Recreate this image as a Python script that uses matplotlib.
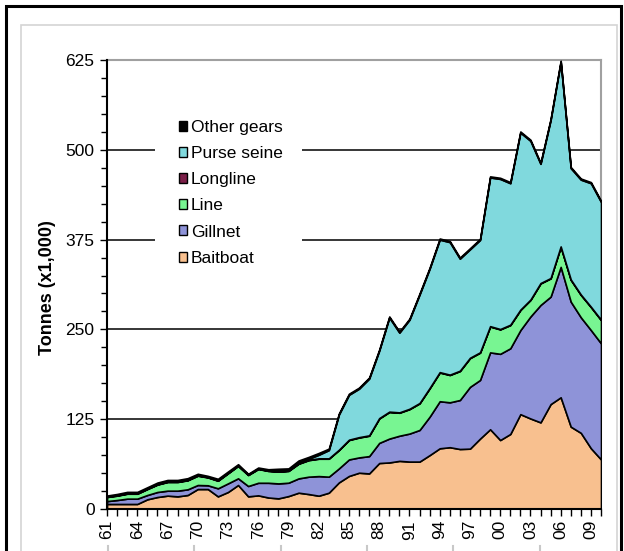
import matplotlib
matplotlib.use("Agg")
import matplotlib.pyplot as plt
from matplotlib.patches import Rectangle, Patch
from matplotlib.lines import Line2D
from matplotlib.ticker import MultipleLocator
import numpy as np

plt.rcParams['font.family'] = ['Liberation Sans', 'DejaVu Sans']

years = list(range(1961, 2011))

baitboat_top = [7, 7, 7, 7, 13.5, 16.7, 18.6, 17.6, 19.5, 27.8,
                27.8, 17.6, 23.7, 33.4, 17.6, 19, 16, 14.8, 18, 22.7,
                20.8, 18.5, 22.7, 37, 46, 50.5, 49.5, 64, 64.8, 67,
                66, 66, 75, 84.5, 86, 83.5, 84, 98, 111, 96,
                104.4, 132, 126, 120.6, 146, 155.5, 114.6, 106, 84.5, 69]
gillnet_top = [11, 12.5, 14.4, 14.4, 19.5, 23.7, 25.5, 25.5, 27.4, 33.4,
               33, 28.8, 35.7, 42.7, 32, 36.5, 36.5, 35.6, 36.6, 42.6,
               45, 45.8, 45, 56.5, 69, 71.8, 73.6, 92, 98, 102,
               105, 110, 128.5, 150, 148.5, 151.7, 170, 179.6, 218, 216,
               223.7, 249, 268, 284, 295.6, 337, 288.6, 266.8, 249, 230.6]
line_top = [16.7, 18.6, 21.3, 21.3, 27.8, 34, 37.6, 37.6, 40, 46.4,
            44, 39.4, 49.7, 60, 47.3, 55.7, 53, 52, 53, 63,
            68, 70, 70, 82, 96, 99.5, 102, 126, 135, 134,
            139, 147, 168, 190, 186.5, 192, 210, 217.6, 254, 250,
            256, 277, 291, 314, 321, 365, 319, 298, 281, 263]
longline = [0.5] * 50
purse_seine = [0] * 19 + [1, 1.5, 5, 11.5, 49, 62.5, 67.5, 79, 94, 131, 111,
                          124, 151, 166, 184.5, 184.5, 156, 151, 156.4, 207, 209,
                          197, 246.5, 221, 166, 220, 257, 155, 160, 172, 164]
other_gears = [1.5, 1.8, 2, 2, 2, 2.3, 2.3, 2.3, 2.4, 2.1,
               1.6, 2.1, 2, 1.8, 1.2, 1.5, 1.8, 3.5, 3, 3,
               2.5, 2.5, 2] + [1.5] * 27

baitboat = np.array(baitboat_top)
gillnet = np.array(gillnet_top) - np.array(baitboat_top)
line = np.array(line_top) - np.array(gillnet_top)

series_names = ["Baitboat", "Gillnet", "Line", "Longline", "Purse seine", "Other gears"]
colors = ["#F8C08F", "#8E93D8", "#78F592", "#7B1F48", "#80D9DD", "#000000"]

W, H = 624, 551
fig = plt.figure(figsize=(W / 100, H / 100), dpi=100)
fig.patch.set_facecolor("white")

# outer frames
fig.add_artist(Rectangle((6 / W, -0.05), (621 - 6) / W, 1.05 - 6 / H,
                         transform=fig.transFigure, fill=False,
                         edgecolor="black", linewidth=2.2))
fig.add_artist(Rectangle((21 / W, -0.05), (617 - 21) / W, 1.05 - 25 / H,
                         transform=fig.transFigure, fill=False,
                         edgecolor="#D4D4D4", linewidth=1.2))
for xp in [108, 194, 281, 367, 453, 540]:
    fig.add_artist(Line2D([xp / W, xp / W], [0, 5 / H], transform=fig.transFigure,
                          color="#C8C8C8", linewidth=1.5))

ax = fig.add_axes([107 / W, (H - 509) / H, (601 - 107) / W, (509 - 60) / H])

ax.stackplot(years, baitboat, gillnet, line, longline, purse_seine, other_gears,
             colors=colors, edgecolor="black", linewidth=1.2, zorder=3)

ax.set_xlim(1961, 2010)
ax.set_ylim(0, 625)
ax.set_yticks([0, 125, 250, 375, 500, 625])
ax.yaxis.set_minor_locator(MultipleLocator(25))
ax.set_xticks(years)
ax.set_xticklabels([f"{y % 100:02d}" if (y - 1961) % 3 == 0 else "" for y in years],
                   rotation=90, fontsize=12.5)
ax.tick_params(axis="y", which="major", length=5, width=1, labelsize=12.5, pad=4)
ax.tick_params(axis="y", which="minor", length=4, width=1)
ax.tick_params(axis="x", which="major", length=5, width=1, pad=3)

ax.grid(axis="y", which="major", color="black", linewidth=1.1, zorder=1)
ax.set_axisbelow(True)

for s in ["top", "right"]:
    ax.spines[s].set_color("#A0A0A0")
    ax.spines[s].set_linewidth(1.5)
for s in ["left", "bottom"]:
    ax.spines[s].set_color("black")
    ax.spines[s].set_linewidth(1.5)
    ax.spines[s].set_zorder(5)

# white background behind legend (hides gridlines)
ax.add_patch(Rectangle((0.097, 0.52), 0.298, 0.39, transform=ax.transAxes,
                       facecolor="white", edgecolor="none", zorder=2))

handles = [Patch(facecolor=c, edgecolor="black", linewidth=1.0) for c in colors]
leg = ax.legend(handles[::-1], series_names[::-1], loc="upper left",
                bbox_to_anchor=(0.145, 0.866), frameon=False, fontsize=12.5,
                handlelength=0.5, handleheight=0.5, handletextpad=0.2,
                labelspacing=0.64, borderpad=0, borderaxespad=0)
leg.set_zorder(6)

fig.text(47 / W, 1 - 288 / H, "Tonnes (x1,000)", rotation=90, fontsize=13,
         fontweight="bold", ha="center", va="center")

fig.savefig("out.png", dpi=100)
